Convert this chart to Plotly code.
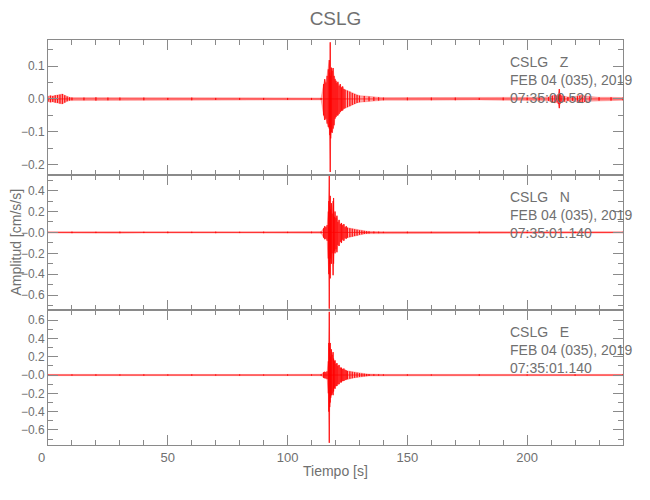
import plotly.graph_objects as go
from plotly.subplots import make_subplots

# ---------------- data (per-time upper/lower extremes) -------------
T_Z = [
    0, 1, 2, 3, 4, 5, 6, 7, 8, 9,
    10, 15, 20, 25, 30, 40, 50, 60, 70, 80,
    90, 100, 110, 114, 115, 115.5, 116, 116.5, 117, 117.4,
    117.6, 117.8, 118, 118.3, 118.6, 119, 119.4, 119.8, 120.2, 120.6,
    121, 121.5, 122, 122.5, 123, 123.5, 124, 125, 126, 127,
    128, 129, 130, 132, 134, 136, 138, 140, 150, 160,
    170, 180, 190, 200, 205, 209, 210.5, 211.5, 212.5, 213,
    213.4, 213.8, 214.5, 215.5, 217, 219, 221, 222, 223, 224,
    226, 230, 235, 240]
UP_Z = [
    0.008, 0.010, 0.009, 0.011, 0.012, 0.013, 0.015, 0.011, 0.007, 0.005,
    0.004, 0.004, 0.005, 0.004, 0.004, 0.004, 0.003, 0.004, 0.003, 0.003,
    0.003, 0.003, 0.003, 0.003, 0.045, 0.060, 0.050, 0.070, 0.090, 0.118,
    0.080, 0.172, 0.070, 0.095, 0.085, 0.094, 0.070, 0.060, 0.055, 0.048,
    0.052, 0.040, 0.045, 0.035, 0.038, 0.030, 0.028, 0.025, 0.022, 0.018,
    0.015, 0.012, 0.010, 0.009, 0.007, 0.006, 0.005, 0.004, 0.004, 0.004,
    0.004, 0.003, 0.004, 0.004, 0.005, 0.006, 0.010, 0.012, 0.010, 0.015,
    0.030, 0.014, 0.010, 0.008, 0.006, 0.006, 0.008, 0.010, 0.012, 0.009,
    0.007, 0.005, 0.005, 0.004]
LO_Z = [
    -0.008, -0.010, -0.009, -0.011, -0.012, -0.014, -0.015, -0.011, -0.007, -0.005,
    -0.004, -0.004, -0.005, -0.004, -0.004, -0.004, -0.003, -0.004, -0.003, -0.003,
    -0.003, -0.003, -0.003, -0.003, -0.050, -0.064, -0.060, -0.075, -0.085, -0.090,
    -0.110, -0.222, -0.120, -0.100, -0.103, -0.090, -0.080, -0.060, -0.055, -0.050,
    -0.050, -0.045, -0.040, -0.036, -0.035, -0.030, -0.028, -0.025, -0.022, -0.018,
    -0.015, -0.012, -0.010, -0.009, -0.007, -0.006, -0.005, -0.004, -0.004, -0.004,
    -0.004, -0.003, -0.004, -0.004, -0.005, -0.006, -0.010, -0.012, -0.010, -0.015,
    -0.028, -0.014, -0.010, -0.008, -0.006, -0.006, -0.008, -0.010, -0.012, -0.009,
    -0.007, -0.005, -0.005, -0.004]

T_N = [
    0, 10, 20, 30, 40, 50, 60, 70, 80, 90,
    100, 110, 114, 115, 115.5, 116, 116.5, 117, 117.2, 117.4,
    117.6, 117.8, 118, 118.3, 118.6, 119, 119.2, 119.5, 119.8, 120.2,
    120.6, 121, 121.5, 122, 122.5, 123, 123.5, 124, 124.5, 125,
    126, 127, 128, 129, 130, 131, 132, 133, 134, 136,
    138, 140, 150, 160, 180, 200, 220, 240]
UP_N = [
    0.006, 0.007, 0.006, 0.007, 0.006, 0.007, 0.006, 0.007, 0.006, 0.007,
    0.006, 0.007, 0.008, 0.040, 0.060, 0.050, 0.070, 0.200, 0.300, 0.540,
    0.250, 0.350, 0.220, 0.280, 0.180, 0.300, 0.330, 0.150, 0.200, 0.140,
    0.160, 0.100, 0.120, 0.080, 0.090, 0.070, 0.080, 0.050, 0.060, 0.045,
    0.040, 0.035, 0.030, 0.025, 0.020, 0.018, 0.015, 0.012, 0.010, 0.008,
    0.007, 0.006, 0.007, 0.006, 0.007, 0.006, 0.007, 0.006]
LO_N = [
    -0.006, -0.007, -0.006, -0.007, -0.006, -0.007, -0.006, -0.007, -0.006, -0.007,
    -0.006, -0.007, -0.008, -0.050, -0.065, -0.060, -0.080, -0.250, -0.400, -0.730,
    -0.300, -0.440, -0.250, -0.300, -0.200, -0.410, -0.300, -0.180, -0.200, -0.160,
    -0.190, -0.120, -0.130, -0.090, -0.100, -0.070, -0.080, -0.055, -0.060, -0.050,
    -0.045, -0.040, -0.035, -0.030, -0.022, -0.018, -0.015, -0.012, -0.010, -0.008,
    -0.007, -0.006, -0.007, -0.006, -0.007, -0.006, -0.007, -0.006]

T_E = [
    0, 10, 20, 30, 40, 50, 60, 70, 80, 90,
    100, 110, 114, 115, 115.5, 116, 116.5, 117, 117.2, 117.4,
    117.6, 117.8, 118, 118.3, 118.6, 119, 119.2, 119.5, 119.8, 120.2,
    120.6, 121, 121.5, 122, 122.5, 123, 123.5, 124, 124.5, 125,
    126, 127, 128, 129, 130, 131, 132, 133, 134, 136,
    138, 140, 150, 160, 180, 200, 220, 240]
UP_E = [
    0.007, 0.006, 0.007, 0.006, 0.007, 0.006, 0.007, 0.006, 0.007, 0.006,
    0.007, 0.007, 0.008, 0.030, 0.035, 0.030, 0.040, 0.150, 0.350, 0.690,
    0.300, 0.350, 0.200, 0.280, 0.220, 0.250, 0.180, 0.150, 0.160, 0.120,
    0.130, 0.100, 0.110, 0.080, 0.080, 0.065, 0.070, 0.055, 0.050, 0.045,
    0.040, 0.035, 0.030, 0.025, 0.020, 0.017, 0.014, 0.012, 0.010, 0.008,
    0.007, 0.007, 0.007, 0.006, 0.007, 0.006, 0.007, 0.007]
LO_E = [
    -0.007, -0.006, -0.007, -0.006, -0.007, -0.006, -0.007, -0.006, -0.007, -0.006,
    -0.007, -0.007, -0.008, -0.030, -0.035, -0.035, -0.045, -0.200, -0.400, -0.740,
    -0.350, -0.300, -0.250, -0.220, -0.200, -0.220, -0.180, -0.140, -0.150, -0.120,
    -0.120, -0.100, -0.100, -0.080, -0.080, -0.065, -0.065, -0.055, -0.050, -0.045,
    -0.040, -0.035, -0.030, -0.025, -0.020, -0.017, -0.014, -0.012, -0.010, -0.008,
    -0.007, -0.007, -0.007, -0.006, -0.007, -0.006, -0.007, -0.007]

COMPONENTS = ["Z", "N", "E"]
START_TIMES = ["07:35:00.520", "07:35:01.140", "07:35:01.140"]
DATE_TEXT = "FEB 04 (035), 2019"
STATION = "CSLG"

X_TICKS = [0, 50, 100, 150, 200]
X_TICKTEXT = ["0\u2002\u2002", "50", "100", "150", "200"]
Y_TICKS_Z = [0.1, 0.0, -0.1, -0.2]
Y_TICKTEXT_Z = ["0.1", "0.0", "\u22120.1", "\u22120.2"]
Y_TICKS_N = [0.4, 0.2, 0.0, -0.2, -0.4, -0.6]
Y_TICKTEXT_N = ["0.4", "0.2", "\u22120.0", "\u22120.2", "\u22120.4", "\u22120.6"]
Y_TICKS_E = [0.6, 0.4, 0.2, 0.0, -0.2, -0.4, -0.6]
Y_TICKTEXT_E = ["0.6", "0.4", "0.2", "\u22120.0", "\u22120.2", "\u22120.4", "\u22120.6"]
Y_RANGES = [[-0.231, 0.179], [-0.743, 0.55], [-0.764, 0.71]]
Y_MINOR = [0.05, 0.1, 0.1]

# ---------------- figure ----------------
FONT = "Liberation Sans, Arial, sans-serif"
TXT = "#707070"
AX = "#8a8a8a"

# page body keeps its default 8 px margin, so the figure is 8 px smaller
W, H = 642, 492
ML, MT, PW, PH = 40, 32, 575, 405

fig = make_subplots(rows=3, cols=1, shared_xaxes=True, vertical_spacing=0)

traces = [(T_Z, UP_Z, LO_Z), (T_N, UP_N, LO_N), (T_E, UP_E, LO_E)]
for i, (t, up, lo) in enumerate(traces):
    assert len(t) == len(up) == len(lo)
    # envelope band
    fig.add_trace(go.Scatter(x=list(t) + list(t)[::-1], y=list(up) + list(lo)[::-1],
                             mode="lines", fill="toself",
                             fillcolor="rgba(255,0,0,0.35)",
                             line=dict(color="rgba(255,0,0,0.55)", width=0.4),
                             hoverinfo="skip", showlegend=False),
                  row=i + 1, col=1)
    # trace strokes: vertical min-max stroke at each reading
    xs, ys = [], []
    for tt, u, l in zip(t, up, lo):
        xs += [tt, tt, tt]
        ys += [u, l, 0.0]
    fig.add_trace(go.Scatter(x=xs, y=ys, mode="lines",
                             line=dict(color="#ff0000", width=0.7, shape="hv"),
                             hoverinfo="skip", showlegend=False),
                  row=i + 1, col=1)

yticks = [(Y_TICKS_Z, Y_TICKTEXT_Z), (Y_TICKS_N, Y_TICKTEXT_N), (Y_TICKS_E, Y_TICKTEXT_E)]
for i in range(3):
    fig.update_yaxes(range=Y_RANGES[i], tickmode="array", tickvals=yticks[i][0],
                     ticktext=yticks[i][1], ticks="inside", ticklen=10,
                     tickcolor=AX, showline=True, linecolor=AX, linewidth=1,
                     mirror="allticks", showgrid=False, zeroline=False,
                     automargin=False,
                     tickfont=dict(family=FONT, size=12, color=TXT),
                     minor=dict(tickmode="linear", tick0=0, dtick=Y_MINOR[i],
                                ticks="inside", ticklen=5, tickcolor=AX),
                     row=i + 1, col=1)
    fig.update_xaxes(range=[0, 240], tickmode="array", tickvals=X_TICKS,
                     ticktext=X_TICKTEXT, ticks="inside", ticklen=10,
                     tickcolor=AX, showline=True, linecolor=AX, linewidth=1,
                     mirror="allticks", showgrid=False, zeroline=False,
                     automargin=False,
                     showticklabels=(i == 2),
                     tickfont=dict(family=FONT, size=13, color=TXT),
                     minor=dict(tickmode="linear", tick0=0, dtick=10,
                                ticks="inside", ticklen=5, tickcolor=AX),
                     row=i + 1, col=1)

annotations = []
for i, comp in enumerate(COMPONENTS):
    top = 1 - i / 3.0
    lines = [STATION + "\u00a0\u00a0\u00a0" + comp, DATE_TEXT, START_TIMES[i]]
    for j, txt in enumerate(lines):
        annotations.append(dict(
            xref="paper", yref="paper", x=0.8, y=top - (22 + 18 * j) / PH,
            xanchor="left", yanchor="middle", text=txt, showarrow=False,
            font=dict(family=FONT, size=14, color=TXT)))

annotations.append(dict(xref="paper", yref="paper", x=0.5, y=-26 / PH,
                        xanchor="center", yanchor="middle", text="Tiempo [s]",
                        showarrow=False, font=dict(family=FONT, size=14, color=TXT)))
annotations.append(dict(xref="paper", yref="paper", x=-33 / PW, y=0.5,
                        xanchor="center", yanchor="middle", text="Amplitud [cm/s/s]",
                        textangle=-90, showarrow=False,
                        font=dict(family=FONT, size=14, color=TXT)))

fig.update_layout(
    width=W, height=H,
    margin=dict(l=ML, r=W - ML - PW, t=MT, b=H - MT - PH, pad=0),
    paper_bgcolor="white", plot_bgcolor="white",
    title=dict(text=STATION, x=(ML + PW / 2) / W, xanchor="center", y=1 - 10 / H,
               yanchor="middle", font=dict(family=FONT, size=19, color=TXT)),
    annotations=annotations,
)

fig.write_html("out.html")
